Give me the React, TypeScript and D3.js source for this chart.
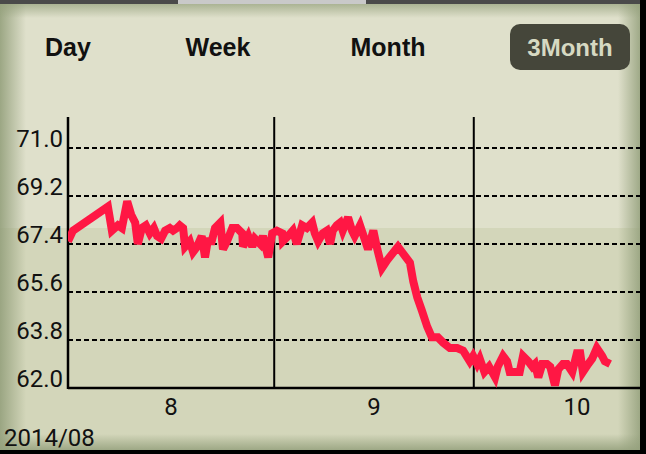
import * as d3 from 'd3';

// days since 2014/08/01 and the measured value for each point
const dayOffsets = [
  0, 0.75, 6.0, 6.6, 7.5, 8.1, 8.9, 9.5, 10.1, 10.5, 11.1, 11.7, 12.3, 12.9, 13.4, 14.0, 14.6, 15.3,
  15.8, 16.4, 16.8, 17.3, 17.6, 18.3, 18.8, 19.4, 20.1, 20.6, 21.0, 21.6, 22.1, 22.9, 23.3, 23.9,
  24.7, 25.4, 26.2, 26.3, 27.1, 27.7, 28.1, 28.9, 29.3, 30.1, 30.7, 31.4, 32.2, 32.3, 33.1, 33.8,
  34.4, 35.2, 35.9, 36.7, 37.1, 37.6, 38.3, 38.9, 39.4, 39.8, 40.4, 40.9, 41.3, 42.1, 42.7, 43.1,
  43.9, 44.3, 45.1, 45.9, 46.5, 47.2, 48.0, 49.6, 51.4, 51.9, 52.5, 53.2, 54.0, 54.7, 55.6, 56.4,
  57.4, 58.5, 59.4, 60.4, 60.9, 61.5, 61.9, 62.6, 63.3, 64.2, 64.6, 65.4, 66.0, 66.4, 67.2, 67.9,
  68.4, 69.2, 69.8, 70.2, 70.7, 71.3, 72.0, 72.5, 73.2, 73.7, 74.4, 75.0, 75.8, 76.5, 77.0, 77.4,
  78.2, 78.8, 79.5, 80.3, 80.7, 81.5,
];
const values = [
  67.5, 67.9, 68.8, 67.9, 68.1, 68.0, 69.0, 68.5, 68.2, 67.4, 68.0, 68.1, 67.8, 68.0, 67.7, 67.6, 67.9, 68.0,
  67.9, 68.0, 68.1, 68.0, 67.3, 67.5, 67.1, 67.3, 67.7, 66.9, 67.5, 67.5, 68.0, 68.2, 67.2, 67.5,
  68.0, 68.0, 67.8, 67.3, 67.7, 67.3, 67.6, 67.4, 67.7, 66.9, 67.8, 67.9, 67.8, 67.5, 67.7, 67.9,
  67.4, 68.1, 68.0, 68.2, 67.8, 67.5, 67.8, 67.9, 67.4, 67.9, 68.1, 68.2, 67.9, 68.4, 67.9, 67.7,
  68.1, 67.8, 67.2, 67.9, 67.2, 66.5, 66.8, 67.3, 66.7, 66.0, 65.4, 64.9, 64.3, 63.9, 63.9, 63.7,
  63.5, 63.5, 63.4, 63.0, 63.2, 62.9, 63.1, 62.6, 62.8, 62.4, 62.8, 63.2, 63.0, 62.6, 62.6, 62.6,
  63.2, 63.0, 62.8, 62.9, 62.4, 62.9, 62.9, 62.8, 62.1, 62.7, 62.9, 62.9, 62.6, 63.3, 63.3, 62.6,
  62.9, 63.1, 63.5, 63.2, 63.0, 62.9,
];

const yTicks = [62.0, 63.8, 65.6, 67.4, 69.2, 71.0];
const monthLabels = ['8', '9', '10'];
const monthStarts = [0, 31, 61, 92];
const tabs = ['Day', 'Week', 'Month', '3Month'];
const periodLabel = '2014/08';

const W = 646;
const H = 454;
const left = 68;
const right = 640;
const top = 117;
const bottom = 388;

const App = () => {
  const x = d3.scaleLinear().domain([0, 92]).range([left, 680]);
  const y = d3.scaleLinear().domain([62, 71]).range([bottom, 148]);

  const points = dayOffsets.map((d, i) => [d, values[i]] as [number, number]);
  const line = d3.line<[number, number]>()
    .x((p) => x(p[0]))
    .y((p) => y(p[1]));

  const tabX = [68, 218, 388, 570];
  const font = 'Roboto, "DejaVu Sans", sans-serif';
  const tabFont = '"Liberation Sans", Arial, sans-serif';

  return (
    <div style={{ position: 'absolute', left: 0, top: 0 }}>
      <svg width={W} height={H} style={{ display: 'block' }}>
        <defs>
          <linearGradient id="leftShade" x1="0" x2="1" y1="0" y2="0">
            <stop offset="0" stopColor="#94a07c" stopOpacity="0.9" />
            <stop offset="1" stopColor="#94a07c" stopOpacity="0" />
          </linearGradient>
          <linearGradient id="rightShade" x1="0" x2="1" y1="0" y2="0">
            <stop offset="0" stopColor="#94a07c" stopOpacity="0" />
            <stop offset="1" stopColor="#94a07c" stopOpacity="0.85" />
          </linearGradient>
          <linearGradient id="bottomShade" x1="0" x2="0" y1="0" y2="1">
            <stop offset="0" stopColor="#94a07c" stopOpacity="0" />
            <stop offset="1" stopColor="#94a07c" stopOpacity="0.85" />
          </linearGradient>
          <linearGradient id="topShade" x1="0" x2="0" y1="0" y2="1">
            <stop offset="0" stopColor="#94a07c" stopOpacity="0.7" />
            <stop offset="1" stopColor="#94a07c" stopOpacity="0" />
          </linearGradient>
          <clipPath id="plotClip">
            <rect x={left} y={top} width={right - left} height={bottom - top + 10} />
          </clipPath>
        </defs>

        {/* background */}
        <rect x={0} y={0} width={W} height={H} fill="#dfe0cb" />
        <rect x={0} y={228} width={W} height={H - 228} fill="#d3d6ba" />
        <rect x={0} y={0} width={26} height={H} fill="url(#leftShade)" />
        <rect x={right - 22} y={0} width={22} height={H} fill="url(#rightShade)" />
        <rect x={0} y={434} width={W} height={16} fill="url(#bottomShade)" />
        <rect x={0} y={4} width={W} height={14} fill="url(#topShade)" />
        <rect x={0} y={0} width={W} height={4} fill="#4a4a4a" />
        <rect x={178} y={0} width={188} height={4} fill="#c9c9c9" />
        <rect x={right} y={0} width={W - right} height={H} fill="#000" />
        <rect x={0} y={450} width={W} height={4} fill="#000" />

        {/* period tabs */}
        <rect x={510} y={24} width={120} height={46} rx={10} fill="#45463a" />
        {tabs.map((t, i) => (
          <text
            key={t}
            x={tabX[i]}
            y={56}
            textAnchor="middle"
            fontFamily={tabFont}
            fontWeight="bold"
            fontSize={i === 3 ? 24 : 25}
            fill={i === 3 ? '#d6d9c2' : '#111'}
          >
            {t}
          </text>
        ))}

        {/* horizontal grid */}
        {yTicks.slice(1).map((t) => (
          <line
            key={t}
            x1={left}
            x2={right}
            y1={y(t)}
            y2={y(t)}
            stroke="#000"
            strokeWidth={2}
            strokeDasharray="5,3"
          />
        ))}

        {/* month boundaries */}
        {monthStarts.slice(1, 3).map((m) => (
          <line key={m} x1={x(m)} x2={x(m)} y1={top} y2={bottom} stroke="#000" strokeWidth={2} />
        ))}

        {/* axes */}
        <line x1={left} x2={left} y1={top} y2={bottom + 1} stroke="#000" strokeWidth={2.5} />
        <line x1={left} x2={right} y1={bottom} y2={bottom} stroke="#000" strokeWidth={2.5} />

        {/* y tick labels */}
        {yTicks.map((t) => (
          <text
            key={t}
            x={left - 5}
            y={y(t) - 1}
            textAnchor="end"
            fontFamily={font}
            fontSize={24}
            fill="#111"
          >
            {t.toFixed(1)}
          </text>
        ))}

        {/* month labels */}
        {monthLabels.map((m, i) => (
          <text
            key={m}
            x={x((monthStarts[i] + monthStarts[i + 1]) / 2)}
            y={415}
            textAnchor="middle"
            fontFamily={font}
            fontSize={24}
            fill="#111"
          >
            {m}
          </text>
        ))}
        <text x={4} y={446} fontFamily={font} fontSize={24} fill="#111">
          {periodLabel}
        </text>

        {/* data line */}
        <path
          d={line(points) || ''}
          fill="none"
          stroke="#ff1744"
          strokeWidth={8}
          strokeLinejoin="miter"
          strokeMiterlimit={3}
          clipPath="url(#plotClip)"
        />
      </svg>
    </div>
  );
};

export default App;
